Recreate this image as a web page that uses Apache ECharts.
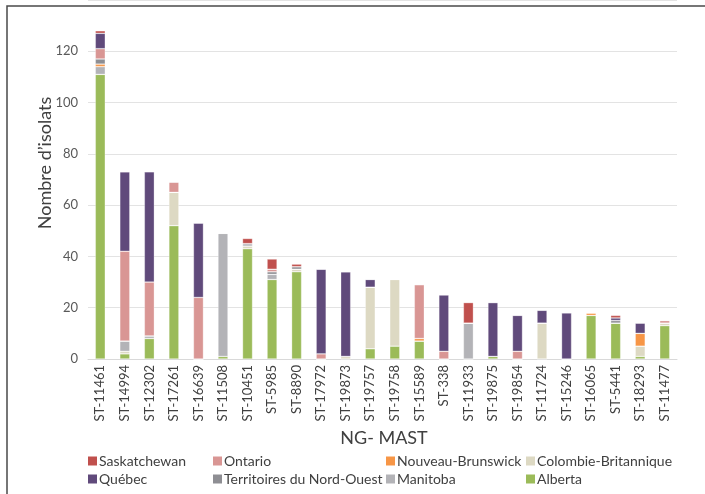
<!DOCTYPE html>
<html><head><meta charset="utf-8">
<script src="https://cdn.jsdelivr.net/npm/echarts@6/dist/echarts.min.js"></script>
<style>html,body{margin:0;padding:0;background:#fff}#c{width:705px;height:494px}</style>
</head><body><div id="c"></div>
<script>
const categories = ["ST-11461","ST-14994","ST-12302","ST-17261","ST-16639","ST-11508","ST-10451","ST-5985","ST-8890","ST-17972","ST-19873","ST-19757","ST-19758","ST-15589","ST-338","ST-11933","ST-19875","ST-19854","ST-11724","ST-15246","ST-16065","ST-5441","ST-18293","ST-11477"];
const alberta      = [111,2,8,52,0,1,43,31,34,0,0,4,5,7,0,0,1,0,0,0,17,14,1,13];
const colombieBrit = [0,1,0,13,0,0,1,0,1,0,1,24,26,0,0,0,0,0,14,0,0,0,4,1];
const manitoba     = [3,4,1,0,0,48,1,2,0,0,0,0,0,0,0,14,0,0,0,0,0,0,0,0];
const nouveauBrun  = [1,0,0,0,0,0,0,0,0,0,0,0,0,1,0,0,0,0,0,0,1,0,5,0];
const territoires  = [2,0,0,0,0,0,0,1,1,0,0,0,0,0,0,0,0,0,0,0,0,1,0,0];
const ontario      = [4,35,21,4,24,0,0,1,0,2,0,0,0,21,3,0,0,3,0,0,0,0,0,1];
const quebec       = [6,31,43,0,29,0,0,0,0,33,33,3,0,0,22,0,21,14,5,18,0,1,4,0];
const saskatchewan = [1,0,0,0,0,0,2,4,1,0,0,0,0,0,0,8,0,0,0,0,0,1,0,0];
const yTicks = [0,20,40,60,80,100,120];

const font = 'Lato, "Open Sans", sans-serif';
const seriesDefs = [
  ['Alberta', alberta, '#9BBB59'],
  ['Colombie-Britannique', colombieBrit, '#DDD9C3'],
  ['Manitoba', manitoba, '#B3B3B7'],
  ['Nouveau-Brunswick', nouveauBrun, '#F79646'],
  ['Territoires du Nord-Ouest', territoires, '#8E8E93'],
  ['Ontario', ontario, '#D99694'],
  ['Québec', quebec, '#604A7B'],
  ['Saskatchewan', saskatchewan, '#C0504D']
];
const chart = echarts.init(document.getElementById('c'));
const legendCols = [
  [88, ['Saskatchewan','Québec']],
  [213, ['Ontario','Territoires du Nord-Ouest']],
  [386, ['Nouveau-Brunswick','Manitoba']],
  [526, ['Colombie-Britannique','Alberta']]
];
chart.setOption({
  animation: false,
  grid: {left: 88, right: 28, top: -9.6, bottom: 135, containLabel: false},
  graphic: [
    {type: 'rect', shape: {x: 7, y: 6, width: 720, height: 520}, style: {fill: 'none', stroke: '#4a4a4a', lineWidth: 1.5}, silent: true},
    {type: 'text', x: 45, y: 163, rotation: Math.PI/2, style: {text: "Nombre d\u2019isolats", font: '18px ' + font, fill: '#404040', align: 'center', verticalAlign: 'middle'}},
    {type: 'text', x: 384, y: 438, style: {text: 'NG- MAST', font: '18px ' + font, fill: '#404040', align: 'center', verticalAlign: 'middle'}}
  ],
  legend: legendCols.map(([x, names]) => ({
    left: x, top: 454, orient: 'vertical', itemGap: 4, itemWidth: 9, itemHeight: 9, icon: 'rect', padding: 0,
    itemStyle: {borderWidth: 0},
    textStyle: {fontFamily: font, fontSize: 14, color: '#404040', padding: [0,0,0,-3]},
    data: names
  })),
  xAxis: {
    type: 'category', data: categories,
    axisLine: {lineStyle: {color: '#d9d9d9', width: 1}},
    axisTick: {show: false},
    axisLabel: {rotate: 90, fontFamily: font, fontSize: 13, color: '#404040', margin: 6, interval: 0}
  },
  yAxis: {
    type: 'value', min: 0, max: 140, interval: 20,
    axisLine: {show: false}, axisTick: {show: false},
    axisLabel: {fontFamily: font, fontSize: 13, color: '#595959', margin: 10,
      formatter: v => yTicks.includes(v) ? String(v) : ''},
    splitLine: {lineStyle: {color: '#e3e3e3', width: 1.2}}
  },
  series: seriesDefs.map(([name, data, color]) => ({
    name, type: 'bar', stack: 'total', data, barWidth: 10,
    itemStyle: {color, borderColor: 'rgba(255,255,255,0.5)', borderWidth: 0.6}
  }))
});
</script></body></html>
